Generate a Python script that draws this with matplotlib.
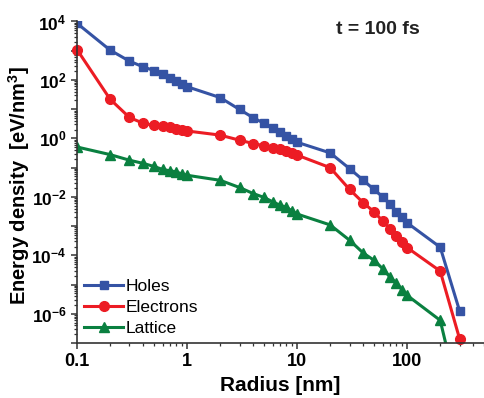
import matplotlib
matplotlib.use("Agg")
import matplotlib.pyplot as plt
from matplotlib.ticker import LogLocator, FuncFormatter, NullFormatter
import numpy as np

plt.rcParams['font.family'] = ['Liberation Sans', 'DejaVu Sans']
plt.rcParams['mathtext.fontset'] = 'custom'
plt.rcParams['mathtext.rm'] = 'Liberation Sans:bold'
plt.rcParams['mathtext.bf'] = 'Liberation Sans:bold'
plt.rcParams['mathtext.it'] = 'Liberation Sans:bold'

radius = [0.1, 0.2, 0.3, 0.4, 0.5, 0.6, 0.7, 0.8, 0.9, 1,
          2, 3, 4, 5, 6, 7, 8, 9, 10,
          20, 30, 40, 50, 60, 70, 80, 90, 100, 200, 300]
holes = [8700, 1050, 440, 280, 210, 155, 120, 92, 72, 59,
         25, 9.8, 5.1, 3.3, 2.2, 1.6, 1.2, 0.93, 0.74,
         0.32, 0.093, 0.037, 0.018, 0.010, 0.0056, 0.0031, 0.0020, 0.0013, 1.9e-4, 1.26e-6]
electrons = [1100, 22, 5.2, 3.3, 2.8, 2.7, 2.4, 2.1, 2.0, 1.8,
             1.3, 0.87, 0.67, 0.56, 0.46, 0.42, 0.37, 0.31, 0.27,
             0.10, 0.018, 0.0063, 0.0031, 0.0015, 8.3e-4, 4.5e-4, 2.9e-4, 1.85e-4, 2.9e-5, 1.4e-7]
lattice = [0.51, 0.28, 0.18, 0.14, 0.11, 0.087, 0.078, 0.072, 0.060, 0.055,
           0.037, 0.021, 0.013, 0.0096, 0.0068, 0.0052, 0.0044, 0.0033, 0.0026,
           0.0011, 3.3e-4, 1.2e-4, 6.8e-5, 3.5e-5, 1.8e-5, 1.1e-5, 6.7e-6, 4.3e-6, 6e-7, 1e-9]

fig = plt.figure(figsize=(4.84, 3.98), dpi=100)
ax = fig.add_axes([0.159, 0.138, 0.841, 0.808])

ax.plot(radius, holes, color='#3553a4', marker='s', ms=6, lw=2.2, label='Holes')
ax.plot(radius, electrons, color='#ec1c24', marker='o', ms=7, lw=2.2, label='Electrons', clip_on=False)
ax.plot(radius, lattice, color='#0a8040', marker='^', ms=7, lw=2.2, label='Lattice')

ax.set_xscale('log')
ax.set_yscale('log')
ax.set_xlim(0.1, 500)
ax.set_ylim(1e-7, 1e4)

for s in ['top', 'right']:
    ax.spines[s].set_visible(False)
for s in ['left', 'bottom']:
    ax.spines[s].set_linewidth(1.2)
    ax.spines[s].set_color('#333333')

ax.yaxis.set_major_locator(LogLocator(base=10, numticks=20))
ax.yaxis.set_minor_locator(LogLocator(base=10, subs=np.arange(2, 10), numticks=20))
ax.xaxis.set_major_locator(LogLocator(base=10, numticks=20))
ax.xaxis.set_minor_locator(LogLocator(base=10, subs=np.arange(2, 10), numticks=20))

def yfmt(v, pos):
    e = int(round(np.log10(v)))
    if e % 2 != 0:
        return ''
    return r'$\mathbf{10^{%d}}$' % e

def xfmt(v, pos):
    if v < 1:
        return '0.1'
    return '%d' % round(v)

ax.yaxis.set_major_formatter(FuncFormatter(yfmt))
ax.xaxis.set_major_formatter(FuncFormatter(xfmt))
ax.yaxis.set_minor_formatter(NullFormatter())
ax.xaxis.set_minor_formatter(NullFormatter())

ax.tick_params(which='major', direction='out', length=4, width=1.1, color='#333333')
ax.tick_params(axis='x', which='major', labelsize=13)
ax.tick_params(axis='y', which='major', labelsize=12.5)
ax.tick_params(which='minor', direction='out', length=2.2, width=0.9, color='#333333')
for lab in ax.get_xticklabels() + ax.get_yticklabels():
    lab.set_fontweight('bold')

ax.set_xlabel('Radius [nm]', fontsize=15, fontweight='bold', labelpad=4)
ax.set_ylabel(r'Energy density  [eV/nm$^{3}$]', fontsize=14.5, fontweight='bold')
ax.yaxis.set_label_coords(-0.11, 0.49)

ax.text(0.74, 0.974, 't = 100 fs', transform=ax.transAxes, fontsize=14, fontweight='bold',
        ha='center', va='center', color='#222222')

leg = ax.legend(loc='lower left', bbox_to_anchor=(0.0, 0.0), frameon=False, fontsize=12.5,
                handlelength=2.2, handletextpad=0.2, labelspacing=0.33, borderaxespad=0.03)

fig.savefig('out.png', dpi=100)
